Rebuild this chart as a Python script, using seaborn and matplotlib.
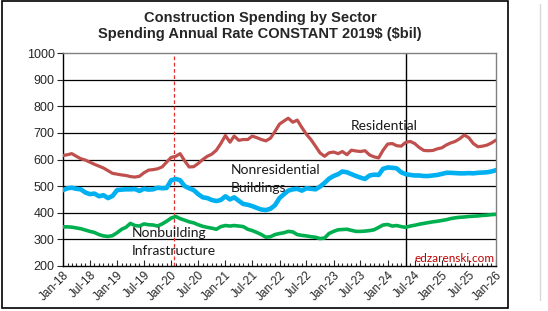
import matplotlib
matplotlib.use("Agg")
from matplotlib import pyplot as plt, dates as mdates
from matplotlib.patches import Rectangle
from matplotlib.lines import Line2D
import seaborn as sns
import pandas as pd

# monthly, Jan-18 .. Jan-26, $bil constant 2019$
first_month = "2018-01-01"
last_month = "2026-01-01"
residential = [615, 618, 622, 612, 603, 598, 590, 582, 575, 568, 558, 548,
               545, 542, 540, 536, 534, 537, 550, 560, 562, 565, 572, 590,
               608, 612, 622, 595, 572, 573, 585, 600, 612, 620, 635, 660,
               690, 665, 688, 672, 675, 675, 688, 682, 675, 670, 680, 705,
               733, 745, 755, 740, 748, 720, 695, 675, 650, 625, 612, 625,
               628, 622, 630, 618, 635, 632, 630, 633, 617, 610, 606, 635,
               658, 660, 652, 650, 664, 668, 660, 645, 634, 633, 634, 640,
               644, 655, 662, 668, 678, 692, 682, 660, 648, 650, 654, 662,
               673]
nonresidential = [485, 492, 494, 490, 488, 476, 470, 472, 462, 466, 455, 463,
                  485, 487, 488, 488, 489, 482, 490, 487, 488, 494, 492, 493,
                  522, 527, 522, 500, 492, 485, 470, 458, 455, 448, 444, 448,
                  462, 450, 458, 445, 433, 430, 425, 418, 412, 410, 415, 428,
                  455, 470, 483, 488, 490, 483, 492, 490, 488, 498, 512, 528,
                  538, 545, 555, 552, 545, 538, 532, 527, 540, 543, 542, 565,
                  570, 569, 567, 552, 545, 542, 540, 540, 538, 538, 540, 542,
                  546, 550, 550, 549, 548, 548, 549, 548, 550, 551, 552, 555,
                  560]
nonbuilding = [347, 347, 346, 343, 340, 335, 330, 326, 318, 313, 311, 314,
               325, 338, 345, 360, 352, 350, 358, 355, 354, 350, 358, 368,
               380, 386, 378, 372, 366, 362, 355, 349, 345, 342, 338, 348,
               352, 350, 352, 350, 348, 338, 333, 326, 318, 308, 310, 318,
               322, 325, 330, 328, 318, 315, 313, 310, 308, 303, 305, 322,
               330, 336, 337, 338, 334, 330, 330, 331, 333, 336, 345, 354,
               356, 350, 352, 348, 345, 350, 353, 357, 360, 363, 366, 368,
               371, 374, 378, 381, 383, 384, 386, 387, 388, 390, 391, 393,
               394]
covid_date = "2020-01-22"
forecast_date = "2024-05-07"
title = "Construction Spending by Sector\nSpending Annual Rate CONSTANT 2019\\$ (\\$bil)"

months = pd.date_range(first_month, last_month, freq="MS")
df = pd.DataFrame({"month": months, "Residential": residential,
                   "Nonresidential": nonresidential, "Nonbuilding": nonbuilding})

sns.set_style("white")
plt.rcParams["font.family"] = ["Liberation Sans", "DejaVu Sans"]

W, H = 548, 311
fig = plt.figure(figsize=(W / 100, H / 100), dpi=100)
ax = fig.add_axes([63 / W, 1 - 266 / H, (496 - 63) / W, (266 - 53) / H])


def fx(x, y):
    return x / W, 1 - y / H


# outer frame + shadow line
fig.patches.append(Rectangle(fx(2, 308), 506 / W, 307 / H, transform=fig.transFigure,
                             fill=False, edgecolor="black", linewidth=1.2))
fig.lines.append(Line2D([540 / W, 540 / W], [1 - 300 / H, 1 - 4 / H], transform=fig.transFigure,
                        color="#d9d9d9", linewidth=1))

for y in range(300, 1000, 100):
    ax.axhline(y, color="black", linewidth=0.9, zorder=1)

sns.lineplot(data=df, x="month", y="Residential", color="#c0504d", linewidth=2.3, ax=ax, zorder=3)
sns.lineplot(data=df, x="month", y="Nonresidential", color="#00b0f0", linewidth=3.3, ax=ax, zorder=3)
sns.lineplot(data=df, x="month", y="Nonbuilding", color="#00b050", linewidth=2.6, ax=ax, zorder=3)

ax.axvline(pd.Timestamp(covid_date), color="#e03030", linestyle=(0, (3, 2)), linewidth=0.9, zorder=2)
ax.axvline(pd.Timestamp(forecast_date), color="black", linewidth=1.0, zorder=2)

ax.set_xlim(months[0], months[-1])
ax.set_ylim(200, 1000)
ax.set_yticks(range(200, 1001, 100))
ax.set_xlabel("")
ax.set_ylabel("")
ax.xaxis.set_major_locator(mdates.MonthLocator(bymonth=[1, 7]))
ax.xaxis.set_major_formatter(mdates.DateFormatter("%b-%y"))
ax.xaxis.set_minor_locator(mdates.MonthLocator())
ax.tick_params(axis="x", which="major", direction="in", length=4, width=0.8,
               labelsize=8.5, pad=2, bottom=True)
ax.tick_params(axis="x", which="minor", direction="in", length=2.5, width=0.8, bottom=True)
ax.tick_params(axis="y", which="major", direction="out", length=4, width=0.8,
               labelsize=9, pad=2, left=True)
for lab in ax.get_xticklabels():
    lab.set_rotation(45)
    lab.set_ha("right")
    lab.set_rotation_mode("anchor")

for side in ["left", "bottom"]:
    ax.spines[side].set_color("black")
    ax.spines[side].set_linewidth(1.0)
for side in ["top", "right"]:
    ax.spines[side].set_color("#808080")
    ax.spines[side].set_linewidth(1.0)

fig.text(*fx(260, 26), title, ha="center", va="center", fontsize=10.5,
         fontweight="bold", linespacing=1.2)

lab_font = dict(family=["Lato", "DejaVu Sans"], fontsize=10, color="#1a1a1a", va="center", ha="left")
fig.text(*fx(351, 126.5), "Residential", **lab_font)
fig.text(*fx(231, 170), "Nonresidential", **lab_font)
fig.text(*fx(231, 188), "Buildings", **lab_font)
fig.text(*fx(132, 233), "Nonbuilding", **lab_font)
fig.text(*fx(132, 251), "Infrastructure", **lab_font)
fig.text(*fx(495, 259), "edzarenski.com", family=["Lato", "DejaVu Sans"], fontsize=8.5,
         color="#c00000", va="center", ha="right")

fig.savefig("out.png", dpi=100)
